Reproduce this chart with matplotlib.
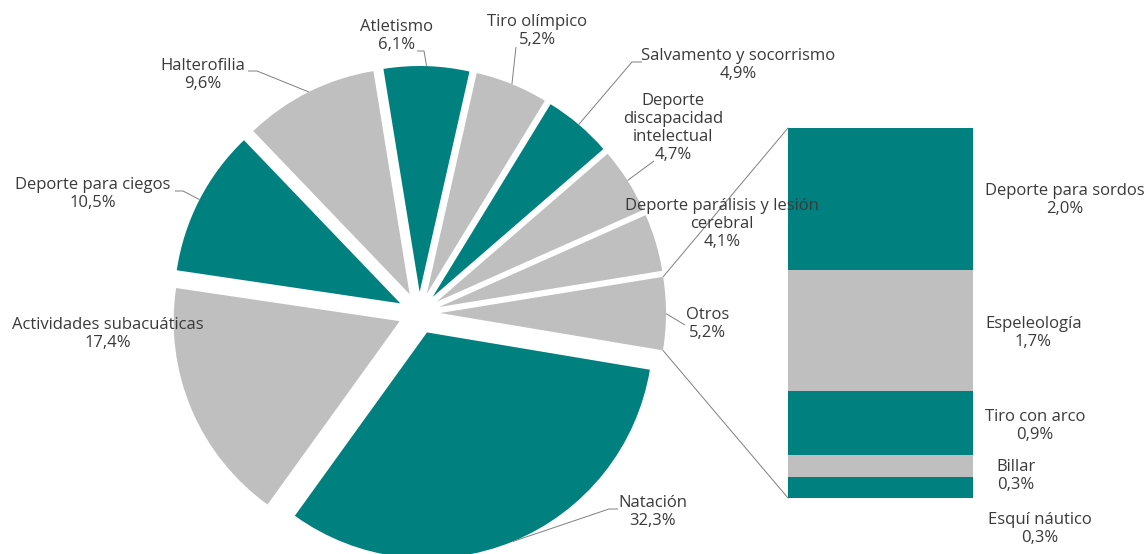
"""Bar-of-pie: licencias federativas por deporte adaptado (Otros desglosado)."""

import numpy as np
import matplotlib

matplotlib.use("Agg")
import matplotlib.pyplot as plt
from matplotlib.patches import ConnectionPatch

# --- data -------------------------------------------------------------
PIE_LABELS = [
    "Otros",
    "Deporte parálisis y lesión\ncerebral",
    "Deporte\ndiscapacidad\nintelectual",
    "Salvamento y socorrismo",
    "Tiro olímpico",
    "Atletismo",
    "Halterofilia",
    "Deporte para ciegos",
    "Actividades subacuáticas",
    "Natación",
]
PIE_VALUES = [5.2, 4.1, 4.7, 4.9, 5.2, 6.1, 9.6, 10.5, 17.4, 32.3]

BAR_LABELS = ["Deporte para sordos", "Espeleología", "Tiro con arco", "Billar", "Esquí náutico"]
BAR_VALUES = [2.0, 1.7, 0.9, 0.3, 0.3]

TEAL = "#00807F"
GREY = "#BFBFBF"
TEXT = "#3A3A3A"
LINE = "#7F7F7F"

PIE_COLORS = [GREY, GREY, GREY, TEAL, GREY, TEAL, GREY, TEAL, GREY, TEAL]
BAR_COLORS = [TEAL, GREY, TEAL, GREY, TEAL]

W, H = 1145, 554


def Y(y):
    """image-pixel row -> data y (axes span the whole figure)."""
    return H - y


# label layout: text centre (image px) and optional elbow of the leader line
PIE_LABEL_POS = {
    "Otros": ((708, 324), (685, 325)),
    "Deporte parálisis y lesión\ncerebral": ((722, 224), None),
    "Deporte\ndiscapacidad\nintelectual": ((673, 128), (654, 161)),
    "Salvamento y socorrismo": ((738, 65), (632, 62)),
    "Tiro olímpico": ((537, 31), (516, 47)),
    "Atletismo": ((397, 36), (424, 51)),
    "Halterofilia": ((203, 75), (257, 71)),
    "Deporte para ciegos": ((93, 194), (183, 191)),
    "Actividades subacuáticas": ((108, 334), None),
    "Natación": ((653, 512), (609, 509)),
}
LEADER_START = {
    "Otros": (685, 325),
    "Deporte\ndiscapacidad\nintelectual": (654, 161),
    "Salvamento y socorrismo": (642, 62),
    "Tiro olímpico": (516, 47),
    "Atletismo": (417, 51),
    "Halterofilia": (248, 71),
    "Deporte para ciegos": (175, 191),
    "Natación": (618, 509),
}
BAR_LABEL_POS = [(985, 200), (985, 333), (985, 426), (996, 476), (988, 529)]

plt.rcParams["font.family"] = ["Open Sans", "DejaVu Sans"]
plt.rcParams["font.size"] = 12
LSP = 1.15

fig = plt.figure(figsize=(W / 100, H / 100), dpi=100)

# stacked bar for "Otros" (drawn below the main axes so labels can overlap it)
bx0, bx1, by0, by1 = 788, 973, 498, 128
ax2 = fig.add_axes([bx0 / W, Y(by0) / H, (bx1 - bx0) / W, (by0 - by1) / H])
bottom = sum(BAR_VALUES)
for val, col in zip(BAR_VALUES, BAR_COLORS):
    bottom -= val
    ax2.bar(0, val, bottom=bottom, width=1, color=col, linewidth=0)
ax2.set_xlim(-0.5, 0.5)
ax2.set_ylim(0, sum(BAR_VALUES))
ax2.axis("off")

ax = fig.add_axes([0, 0, 1, 1])
ax.set_zorder(2)
ax.patch.set_visible(False)

wedges, _ = ax.pie(
    PIE_VALUES,
    colors=PIE_COLORS,
    startangle=-9.5,
    center=(419, Y(313)),
    radius=226,
    explode=[21] * len(PIE_VALUES),
    wedgeprops=dict(linewidth=0),
)
ax.set_xlim(0, W)
ax.set_ylim(0, H)
ax.set_aspect("equal")
ax.axis("off")

for w, lab, val in zip(wedges, PIE_LABELS, PIE_VALUES):
    (tx, ty), elbow = PIE_LABEL_POS[lab]
    ax.text(tx, Y(ty), f"{lab}\n{val:.1f}%".replace(".", ","), ha="center", va="center",
            color=TEXT, multialignment="center", linespacing=LSP, zorder=5)
    if elbow is None:
        continue
    th = np.deg2rad((w.theta1 + w.theta2) / 2)
    cx, cy = w.center
    px, py = cx + w.r * np.cos(th), cy + w.r * np.sin(th)
    sx, sy = LEADER_START[lab]
    ax.plot([sx, elbow[0], px], [Y(sy), Y(elbow[1]), py], color=LINE, lw=0.7,
            solid_capstyle="butt")

for (lx, ly), lab, val in zip(BAR_LABEL_POS, BAR_LABELS, BAR_VALUES):
    ax.text(lx, Y(ly), f"{lab}\n{val:.1f}%".replace(".", ","), ha="left", va="center",
            color=TEXT, multialignment="center", linespacing=LSP)

# connectors from the "Otros" wedge to the bar
otros = wedges[0]
cx, cy = otros.center
for ang, ybar in ((otros.theta2, sum(BAR_VALUES)), (otros.theta1, 0)):
    t = np.deg2rad(ang)
    con = ConnectionPatch(
        xyA=(cx + otros.r * np.cos(t), cy + otros.r * np.sin(t)), coordsA=ax.transData,
        xyB=(-0.5, ybar), coordsB=ax2.transData,
        color=LINE, lw=0.7,
    )
    con.set_zorder(1)
    fig.add_artist(con)

fig.savefig("out.png", dpi=100)
